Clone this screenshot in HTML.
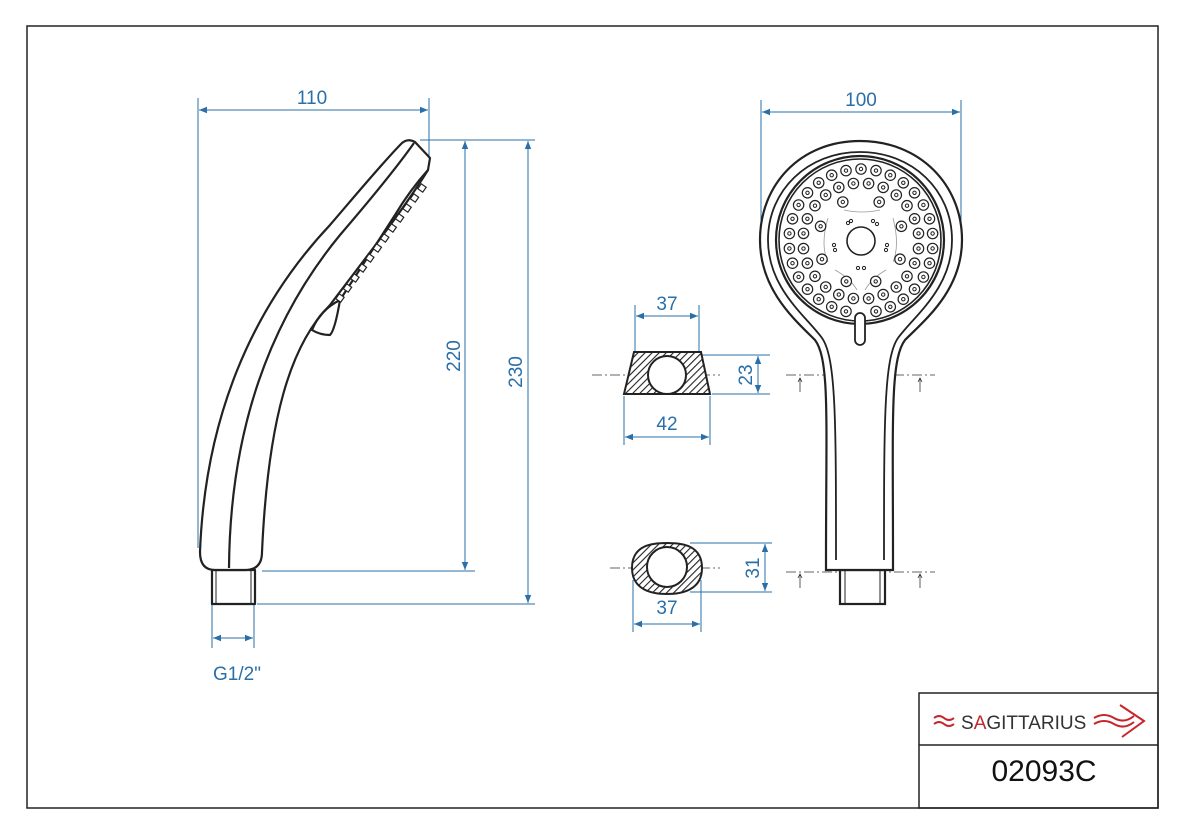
<!DOCTYPE html>
<html><head><meta charset="utf-8"><style>
html,body{margin:0;padding:0;background:#fff;}
svg{display:block;font-family:"Liberation Sans",sans-serif;}
</style></head><body>
<svg width="1181" height="826" viewBox="0 0 1181 826" xmlns="http://www.w3.org/2000/svg" xmlns:xlink="http://www.w3.org/1999/xlink">
<defs>
<pattern id="h" width="5" height="5" patternUnits="userSpaceOnUse" patternTransform="rotate(45)">
<rect width="5" height="5" fill="#fff"/><line x1="0" y1="0" x2="0" y2="5" stroke="#222" stroke-width="2.2"/></pattern>
<marker id="a" viewBox="0 0 10 10" refX="10" refY="5" markerWidth="8" markerHeight="8" orient="auto-start-reverse"><path d="M0,1 L10,5 L0,9 z" fill="#2a6fa8"/></marker>
<g id="n"><circle r="5.2" fill="#fff" stroke="#222" stroke-width="1.2"/><circle r="1.7" fill="none" stroke="#222" stroke-width="1"/></g>
<rect id="q" x="-3" y="-3" width="6" height="6" fill="#fff" stroke="#222" stroke-width="1.2" transform="rotate(35)"/>
</defs>
<rect x="27" y="26" width="1131" height="782" fill="none" stroke="#222" stroke-width="1.5"/>
<!-- title block -->
<rect x="919" y="693" width="239" height="115" fill="none" stroke="#222" stroke-width="1.5"/>
<line x1="919" y1="745" x2="1158" y2="745" stroke="#222" stroke-width="1.5"/>
<path d="M934,718 q5,-4 10,0 t10,0 M934,724 q5,-4 10,0 t10,0" stroke="#c8252b" fill="none" stroke-width="2"/>
<text x="961" y="729" font-size="19" fill="#333">S<tspan fill="#c8252b">A</tspan>GITTARIUS</text>
<path d="M1094,718 q10,-6 20,0 t20,-2 M1094,724 q10,-6 20,0 t20,-2 M1120,705 l24,16 l-22,16" stroke="#c8252b" fill="none" stroke-width="2"/>
<text x="1044" y="781" font-size="30" fill="#111" text-anchor="middle">02093C</text>

<g stroke="#2a6fa8" stroke-width="1" fill="none">
<line x1="198" y1="98" x2="198" y2="548"/><line x1="429" y1="98" x2="429" y2="158"/>
<line x1="199" y1="110" x2="428" y2="110" marker-start="url(#a)" marker-end="url(#a)"/>
<line x1="420" y1="140" x2="535" y2="140"/>
<line x1="262" y1="571" x2="475" y2="571"/>
<line x1="257" y1="604" x2="535" y2="604"/>
<line x1="465" y1="141" x2="465" y2="570" marker-start="url(#a)" marker-end="url(#a)"/>
<line x1="528" y1="141" x2="528" y2="603" marker-start="url(#a)" marker-end="url(#a)"/>
<line x1="212" y1="604" x2="212" y2="648"/><line x1="254" y1="604" x2="254" y2="648"/>
<line x1="213" y1="638" x2="253" y2="638" marker-start="url(#a)" marker-end="url(#a)"/>
<line x1="761" y1="100" x2="761" y2="232"/><line x1="961" y1="100" x2="961" y2="232"/>
<line x1="762" y1="112" x2="960" y2="112" marker-start="url(#a)" marker-end="url(#a)"/>
<line x1="635" y1="305" x2="635" y2="352"/><line x1="699" y1="305" x2="699" y2="352"/>
<line x1="636" y1="316" x2="698" y2="316" marker-start="url(#a)" marker-end="url(#a)"/>
<line x1="624" y1="396" x2="624" y2="445"/><line x1="710" y1="396" x2="710" y2="445"/>
<line x1="625" y1="437" x2="709" y2="437" marker-start="url(#a)" marker-end="url(#a)"/>
<line x1="700" y1="355" x2="770" y2="355"/><line x1="712" y1="394" x2="770" y2="394"/>
<line x1="758" y1="356" x2="758" y2="393" marker-start="url(#a)" marker-end="url(#a)"/>
<line x1="690" y1="543" x2="772" y2="543"/><line x1="690" y1="592" x2="772" y2="592"/>
<line x1="765" y1="544" x2="765" y2="591" marker-start="url(#a)" marker-end="url(#a)"/>
<line x1="633" y1="580" x2="633" y2="632"/><line x1="701" y1="580" x2="701" y2="632"/>
<line x1="634" y1="624" x2="700" y2="624" marker-start="url(#a)" marker-end="url(#a)"/>
</g>
<g fill="#2a6fa8" font-size="19" text-anchor="middle">
<text x="312" y="104">110</text><text x="861" y="106">100</text>
<text x="667" y="310">37</text><text x="667" y="430">42</text><text x="667" y="614">37</text>
<text x="237" y="680">G1/2"</text>
<text transform="translate(460,356) rotate(-90)">220</text>
<text transform="translate(522,372) rotate(-90)">230</text>
<text transform="translate(752,375) rotate(-90)">23</text>
<text transform="translate(759,568) rotate(-90)">31</text>
</g>
<g stroke="#333" stroke-width="0.8" stroke-dasharray="10,3,2,3" fill="none">
<line x1="592" y1="375" x2="720" y2="375"/><line x1="610" y1="568" x2="720" y2="568"/>
<line x1="786" y1="375" x2="935" y2="375"/><line x1="786" y1="572" x2="935" y2="572"/>
</g>
<g stroke="#333" stroke-width="0.8" fill="none">
<path d="M800,392 v-14 m-2,4 l2,-4 l2,4 M920,392 v-14 m-2,4 l2,-4 l2,4 M800,588 v-14 m-2,4 l2,-4 l2,4 M920,588 v-14 m-2,4 l2,-4 l2,4"/>
</g>
<g stroke="#222" stroke-width="2">
<path d="M634,352 L701,352 L710,394 L624,394 Z" fill="url(#h)"/>
<circle cx="667" cy="375" r="19" fill="#fff"/>
<path d="M632,568 C632,545 652,543 667,543 C682,543 702,545 702,568 C702,590 682,594 667,594 C652,594 632,590 632,568 Z" fill="url(#h)"/>
<circle cx="667" cy="567" r="20" fill="#fff"/>
</g>
<!-- side view -->
<g stroke="#222" stroke-width="2.2" fill="#fff" stroke-linejoin="round">
<rect x="212" y="570" width="43" height="34"/>
<line x1="216" y1="570" x2="216" y2="604" stroke-width="1"/><line x1="251" y1="570" x2="251" y2="604" stroke-width="1"/>
<path d="M200,552 C205,420 250,310 330,225 C360,190 385,160 402,143 Q408,138 415,142 L430,158 L428,170 C400,215 360,265 330,305 C290,345 268,420 262,552 Q262,570 245,570 L215,570 Q200,570 200,552 Z"/>
<path d="M229,568 C230,430 270,320 340,235 C370,200 395,170 414,143" fill="none"/>
<path d="M428,170 Q410,190 395,215 L340,300 Q335,330 330,335 Q320,335 312,330 Q320,310 340,300" fill="none"/>
</g>
<g>
<use xlink:href="#q" x="340" y="298"/><use xlink:href="#q" x="347.5" y="288"/><use xlink:href="#q" x="354.9" y="278"/><use xlink:href="#q" x="362.4" y="268"/>
<use xlink:href="#q" x="369.8" y="258"/><use xlink:href="#q" x="377.3" y="248"/><use xlink:href="#q" x="384.7" y="238"/><use xlink:href="#q" x="392.2" y="228"/>
<use xlink:href="#q" x="399.6" y="218"/><use xlink:href="#q" x="407.1" y="208"/><use xlink:href="#q" x="414.5" y="198"/><use xlink:href="#q" x="422" y="188"/>
</g>
<!-- front view -->
<g stroke="#222" stroke-width="2.2" fill="#fff">
<rect x="840" y="570" width="45" height="34"/>
<line x1="845" y1="570" x2="845" y2="604" stroke-width="1"/><line x1="880" y1="570" x2="880" y2="604" stroke-width="1"/>
<path d="M860,141 C920,141 962,185 962,240 C962,290 925,320 905,340 C890,360 893,420 893,560 L893,570 L826,570 L826,560 C826,420 830,360 815,340 C795,320 760,290 760,240 C760,185 800,141 860,141 Z"/>
<path d="M836,560 C836,420 836,358 822,338 C805,315 768,288 768,240 C768,190 808,152 860,152 C912,152 952,190 952,240 C952,288 915,315 898,338 C884,358 884,420 884,560" fill="none" stroke-width="1.8"/>
<circle cx="860" cy="240" r="84" fill="none"/>
<circle cx="860" cy="240" r="81" fill="none" stroke-width="1.6"/>
<circle cx="861" cy="241" r="14" stroke-width="1.6"/>
<rect x="855" y="313" width="10" height="32" rx="5" stroke-width="1.8"/>
</g>
<g stroke="#999" stroke-width="0.8" fill="none">
<path d="M844,210 Q862,214 880,210 M893,218 Q900,245 893,262 M828,218 Q820,245 828,262 M835,270 Q850,278 857,290 M886,270 Q872,278 865,290"/>
</g>
<g transform="translate(861,241)">
<use xlink:href="#n" x="0" y="-72"/>
<use xlink:href="#n" x="15" y="-70.4"/><use xlink:href="#n" x="29.3" y="-65.8"/><use xlink:href="#n" x="42.3" y="-58.2"/><use xlink:href="#n" x="53.5" y="-48.2"/>
<use xlink:href="#n" x="62.4" y="-36"/><use xlink:href="#n" x="68.5" y="-22.2"/><use xlink:href="#n" x="71.6" y="-7.5"/><use xlink:href="#n" x="71.6" y="7.5"/>
<use xlink:href="#n" x="68.5" y="22.2"/><use xlink:href="#n" x="62.4" y="36"/><use xlink:href="#n" x="53.5" y="48.2"/><use xlink:href="#n" x="42.3" y="58.2"/>
<use xlink:href="#n" x="29.3" y="65.8"/><use xlink:href="#n" x="15" y="70.4"/>
<use xlink:href="#n" x="-15" y="-70.4"/><use xlink:href="#n" x="-29.3" y="-65.8"/><use xlink:href="#n" x="-42.3" y="-58.2"/><use xlink:href="#n" x="-53.5" y="-48.2"/>
<use xlink:href="#n" x="-62.4" y="-36"/><use xlink:href="#n" x="-68.5" y="-22.2"/><use xlink:href="#n" x="-71.6" y="-7.5"/><use xlink:href="#n" x="-71.6" y="7.5"/>
<use xlink:href="#n" x="-68.5" y="22.2"/><use xlink:href="#n" x="-62.4" y="36"/><use xlink:href="#n" x="-53.5" y="48.2"/><use xlink:href="#n" x="-42.3" y="58.2"/>
<use xlink:href="#n" x="-29.3" y="65.8"/><use xlink:href="#n" x="-15" y="70.4"/>
<use xlink:href="#n" x="7.6" y="-57.5"/><use xlink:href="#n" x="22.2" y="-53.6"/><use xlink:href="#n" x="35.3" y="-46"/><use xlink:href="#n" x="46" y="-35.3"/>
<use xlink:href="#n" x="53.6" y="-22.2"/><use xlink:href="#n" x="57.5" y="-7.6"/><use xlink:href="#n" x="57.5" y="7.6"/><use xlink:href="#n" x="53.6" y="22.2"/>
<use xlink:href="#n" x="46" y="35.3"/><use xlink:href="#n" x="35.3" y="46"/><use xlink:href="#n" x="22.2" y="53.6"/><use xlink:href="#n" x="7.6" y="57.5"/>
<use xlink:href="#n" x="-7.6" y="-57.5"/><use xlink:href="#n" x="-22.2" y="-53.6"/><use xlink:href="#n" x="-35.3" y="-46"/><use xlink:href="#n" x="-46" y="-35.3"/>
<use xlink:href="#n" x="-53.6" y="-22.2"/><use xlink:href="#n" x="-57.5" y="-7.6"/><use xlink:href="#n" x="-57.5" y="7.6"/><use xlink:href="#n" x="-53.6" y="22.2"/>
<use xlink:href="#n" x="-46" y="35.3"/><use xlink:href="#n" x="-35.3" y="46"/><use xlink:href="#n" x="-22.2" y="53.6"/><use xlink:href="#n" x="-7.6" y="57.5"/>
<use xlink:href="#n" x="18.2" y="-39"/><use xlink:href="#n" x="40.4" y="-14.7"/><use xlink:href="#n" x="39" y="18.2"/><use xlink:href="#n" x="14.7" y="40.4"/>
<use xlink:href="#n" x="-18.2" y="-39"/><use xlink:href="#n" x="-40.4" y="-14.7"/><use xlink:href="#n" x="-39" y="18.2"/><use xlink:href="#n" x="-14.7" y="40.4"/>
<g fill="none" stroke="#222" stroke-width="1">
<circle cx="-13" cy="-18" r="1.6"/><circle cx="-10" cy="-20" r="1.6"/><circle cx="12" cy="-20" r="1.6"/><circle cx="16" cy="-17" r="1.6"/>
<circle cx="-27" cy="4" r="1.6"/><circle cx="-26" cy="9" r="1.6"/><circle cx="26" cy="4" r="1.6"/><circle cx="25" cy="9" r="1.6"/>
<circle cx="-3" cy="27" r="1.6"/><circle cx="3" cy="27" r="1.6"/>
</g>
</g>
</svg>
</body></html>
